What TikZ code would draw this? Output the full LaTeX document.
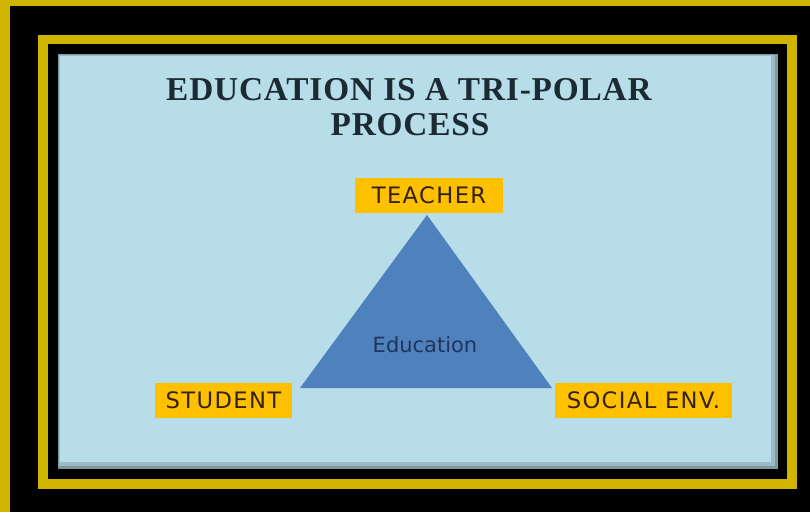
\documentclass[tikz,border=0pt]{standalone}
\usepackage{fontspec}
\usepackage{xcolor}
\usetikzlibrary{positioning}
\newfontfamily\titlefont[LetterSpace=2.5]{Liberation Serif}
\newfontfamily\polefont[LetterSpace=6]{DejaVu Sans}
\newfontfamily\edufont{DejaVu Sans}
\definecolor{framegold}{HTML}{D0B400}
\definecolor{panelblue}{HTML}{B7DDE8}
\definecolor{panelshade}{HTML}{7E98A2}
\definecolor{panelmid}{HTML}{9DBBC5}
\definecolor{labelgold}{HTML}{FFC000}
\definecolor{triblue}{HTML}{4F81BD}
\definecolor{navy}{HTML}{1F3560}
\definecolor{ink}{HTML}{33220E}
\definecolor{slate}{HTML}{1C2B33}

\begin{document}
\begin{tikzpicture}[
    x=0.75pt, y=-0.75pt,
    title/.style={text=slate, font=\titlefont\bfseries\fontsize{25}{30}\selectfont, inner sep=0pt},
    polebox/.style={fill=labelgold, text=ink, font=\polefont\fontsize{17}{20}\selectfont,
                    minimum height=26.25pt, inner sep=0pt}
]
    % frames and panel
    \useasboundingbox (0,0) rectangle (810,512);
    \fill[black] (0,0) rectangle (810,512);
    \fill[framegold] (0,0) rectangle (10,512);
    \fill[framegold] (0,0) rectangle (810,6);
    \fill[framegold] (38,35) rectangle (797,489);
    \fill[black] (48,44) rectangle (787,479);
    \fill[panelshade] (58,54) rectangle (778,469);
    \fill[panelmid] (59,55) rectangle (775,466);
    \fill[panelblue] (60,56) rectangle (771,462);

    % heading
    \node[title, anchor=base] (titletop) at (409,100) {EDUCATION IS A TRI-POLAR};
    \node[title, anchor=base] (titlebottom) at (410,135) {PROCESS};

    % triangle
    \coordinate (apex) at (427,215);
    \coordinate (baseleft) at (300,388);
    \coordinate (baseright) at (552,388);
    \fill[triblue] (apex) -- (baseleft) -- (baseright) -- cycle;
    \node[text=navy, font=\edufont\fontsize{15.75}{18}\selectfont, inner sep=0pt, anchor=base]
        (education) at (425,352) {Education};

    % poles
    \node[polebox, minimum width=111pt] (teacher) at (429,195.5) {TEACHER};
    \node[polebox, minimum width=102.75pt] (student) at (223.5,400.5) {STUDENT};
    \node[polebox, minimum width=132.75pt] (social) at (643.5,400.5) {SOCIAL ENV.};
\end{tikzpicture}
\end{document}
